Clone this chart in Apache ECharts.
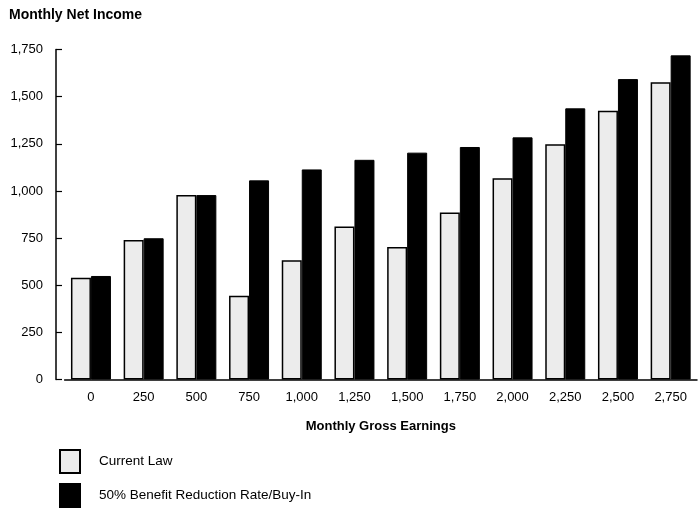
<!DOCTYPE html>
<html>
<head>
<meta charset="utf-8">
<script src="https://cdn.jsdelivr.net/npm/echarts@6/dist/echarts.min.js"></script>
<style>html,body{margin:0;padding:0;background:#fff;}#c{width:700px;height:508px;}</style>
</head>
<body>
<div id="c"></div>
<script>
const categories = ['0','250','500','750','1,000','1,250','1,500','1,750','2,000','2,250','2,500','2,750'];
const currentLaw = [540, 740, 978, 444, 632, 812, 702, 886, 1067, 1247, 1425, 1576];
const buyIn = [549, 749, 978, 1056, 1114, 1165, 1203, 1233, 1284, 1438, 1593, 1719];
const seriesNames = ['Current Law', '50% Benefit Reduction Rate/Buy-In'];

const font = '"Liberation Sans", Arial, Helvetica, sans-serif';
const chart = echarts.init(document.getElementById('c'), null, {renderer: 'canvas'});
chart.setOption({
  animation: false,
  backgroundColor: '#fff',
  textStyle: {fontFamily: font, color: '#000'},
  title: {
    text: 'Monthly Net Income', left: 9, top: 8, padding: 0,
    textStyle: {fontFamily: font, fontSize: 14, fontWeight: 'bold', color: '#000'}
  },
  legend: {
    orient: 'vertical', left: 59, top: 449, padding: 0,
    icon: 'rect',
    itemWidth: 20, itemHeight: 23, itemGap: 9,
    textStyle: {fontFamily: font, fontSize: 13.5, color: '#000', padding: [6, 0, 0, 14]},
    data: seriesNames
  },
  grid: {left: 64.6, right: 3, top: 49.5, bottom: 128.5, containLabel: false},
  xAxis: {
    type: 'category', data: categories,
    name: 'Monthly Gross Earnings', nameLocation: 'middle', nameGap: 40,
    nameTextStyle: {fontFamily: font, fontSize: 13, fontWeight: 'bold', color: '#000'},
    axisLine: {lineStyle: {color: '#000', width: 1.5}},
    axisTick: {show: false},
    axisLabel: {fontFamily: font, fontSize: 13, color: '#000', margin: 11}
  },
  yAxis: {
    type: 'value', min: 0, max: 1750, interval: 250, offset: 8.6,
    axisLine: {show: true, lineStyle: {color: '#000', width: 1.5}},
    axisTick: {show: true, inside: true, length: 6, lineStyle: {color: '#000', width: 1.2}},
    splitLine: {show: false},
    axisLabel: {fontFamily: font, fontSize: 13, color: '#000', margin: 13,
      formatter: v => v.toLocaleString('en-US')}
  },
  series: [
    {name: seriesNames[0], type: 'bar', data: currentLaw, barWidth: 20, barGap: '0%',
      itemStyle: {color: '#ececec', borderColor: '#000', borderWidth: 1.5}},
    {name: seriesNames[1], type: 'bar', data: buyIn, barWidth: 20, barGap: '0%',
      itemStyle: {color: '#000', borderColor: '#000', borderWidth: 1}}
  ]
});
</script>
</body>
</html>
